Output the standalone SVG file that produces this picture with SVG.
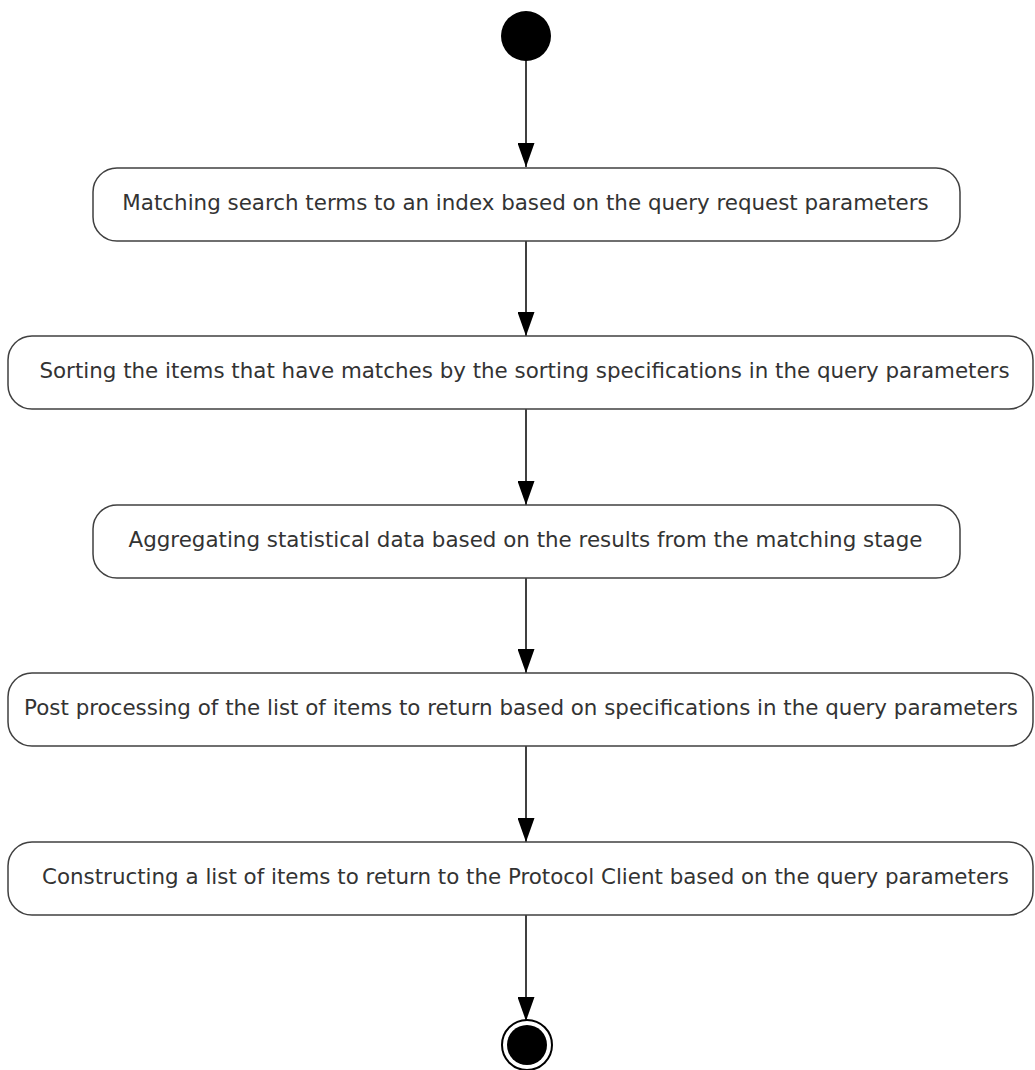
<svg xmlns="http://www.w3.org/2000/svg" width="1035" height="1070" viewBox="0 0 1035 1070">
<style>
.box{fill:#fff;stroke:#404040;stroke-width:1.5}
.lbl{font-family:"DejaVu Sans",Verdana,sans-serif;font-size:21.4px;fill:#333;text-anchor:middle}
.edge{stroke:#000;stroke-width:1.5;fill:none}
</style>
<defs>
<marker id="arr" markerWidth="24" markerHeight="17" refX="24" refY="8.5" orient="auto" markerUnits="userSpaceOnUse" viewBox="0 0 24 17">
<path d="M0,0 L24,8.5 L0,17 Z" fill="#000"/>
</marker>
</defs>
<rect width="1035" height="1070" fill="#fff"/>
<g id="connectors">
<line class="edge" x1="526" y1="60" x2="526" y2="167" marker-end="url(#arr)"/>
<line class="edge" x1="526" y1="241" x2="526" y2="336" marker-end="url(#arr)"/>
<line class="edge" x1="526" y1="409" x2="526" y2="505" marker-end="url(#arr)"/>
<line class="edge" x1="526" y1="578" x2="526" y2="673" marker-end="url(#arr)"/>
<line class="edge" x1="526" y1="746" x2="526" y2="842" marker-end="url(#arr)"/>
<line class="edge" x1="526" y1="915" x2="526" y2="1021" marker-end="url(#arr)"/>
</g>
<g id="start"><circle cx="526" cy="36" r="25" fill="#000"/></g>
<g id="n1"><rect class="box" x="93" y="168" width="867" height="73" rx="24"/><text class="lbl" x="525.5" y="210">Matching search terms to an index based on the query request parameters</text></g>
<g id="n2"><rect class="box" x="8" y="336" width="1025" height="73" rx="24"/><text class="lbl" x="524.5" y="378">Sorting the items that have matches by the sorting specifications in the query parameters</text></g>
<g id="n3"><rect class="box" x="93" y="505" width="867" height="73" rx="24"/><text class="lbl" x="525.5" y="547">Aggregating statistical data based on the results from the matching stage</text></g>
<g id="n4"><rect class="box" x="8" y="673" width="1025" height="73" rx="24"/><text class="lbl" x="521" y="715">Post processing of the list of items to return based on specifications in the query parameters</text></g>
<g id="n5"><rect class="box" x="8" y="842" width="1025" height="73" rx="24"/><text class="lbl" x="525.5" y="884">Constructing a list of items to return to the Protocol Client based on the query parameters</text></g>
<g id="end"><circle cx="527" cy="1045" r="25" fill="#fff" stroke="#000" stroke-width="2"/><circle cx="527" cy="1045" r="20" fill="#000"/></g>
</svg>
